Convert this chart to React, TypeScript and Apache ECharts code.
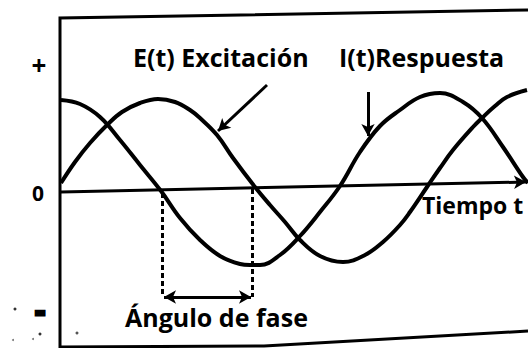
import React, { useEffect, useRef } from "react";
import * as echarts from "echarts";

// Time values (arbitrary units, 0 at the vertical axis) and amplitudes (arbitrary units)
const tRespuesta = [0, 19, 39, 59, 79, 100, 119, 139, 159, 179, 189, 199, 219, 239, 259, 279, 299, 319, 339, 359, 379, 402, 421, 442, 462, 467];
const vRespuesta = [93, 89, 76, 53, 28, 2, -25, -47, -63, -71, -72, -72, -62, -43, -19, 7, 41, 67, 83, 96, 100, 91, 75, 46, 16, 10];

const tExcitacion = [0, 14, 29, 47, 61, 79, 97, 114, 129, 139, 156, 172, 194, 209, 224, 239, 259, 282, 304, 322, 339, 349, 366, 379, 392, 412, 421, 434, 446, 466];
const vExcitacion = [10, 31, 50, 69, 81, 90, 94, 91, 83, 75, 58, 35, 6, -12, -29, -47, -63, -69, -62, -49, -32, -19, 6, 25, 43, 66, 75, 87, 96, 103];

// Time axis (drawn slightly tilted as in the scan)
const ejeTiempo = [[0, 1], [465, 11]];
// Phase angle markers
const faseInicio = 101;
const faseFin = 191;
const faseNivel = -104;
// Pointer arrows for the labels
const punteroE = [[206, 108], [157, 62]];
const punteroI = [[307, 101], [307, 57]];

const etiquetaE = "E(t) Excitación";
const etiquetaI = "I(t)Respuesta";
const etiquetaTiempo = "Tiempo t";
const etiquetaFase = "Ángulo de fase";
const ticksY = ["+", "0", "-"];

const FONT = '"Open Sans", "DejaVu Sans", sans-serif';

export default function App() {
  const ref = useRef<HTMLDivElement>(null);
  useEffect(() => {
    document.body.style.margin = "0";
    const chart = echarts.init(ref.current!, undefined, { renderer: "svg" });
    const black = "#000";
    const curve = (name: string, t: number[], v: number[]) => ({
      name,
      type: "line",
      data: t.map((x, i) => [x, v[i]]),
      smooth: 0.4,
      showSymbol: false,
      clip: false,
      lineStyle: { color: black, width: 4 },
      silent: true,
    });
    const carrier = (name: string, markLine: any) => ({
      name,
      type: "line",
      data: [],
      clip: false,
      markLine: { silent: true, animation: false, label: { show: false }, ...markLine },
    });
    const txt = (text: string, x: number, y: number, size: number, align = "left", stroke = 0) => ({
      type: "text",
      x,
      y,
      style: {
        text,
        fill: black,
        stroke: stroke ? black : undefined,
        lineWidth: stroke,
        font: `bold ${size}px ${FONT}`,
        textAlign: align,
        textVerticalAlign: "middle",
        verticalAlign: "middle",
      },
    });
    chart.setOption({
      animation: false,
      backgroundColor: "#fff",
      grid: { left: 61, right: 0, top: 0, bottom: 0 },
      xAxis: { type: "value", min: 0, max: 467, show: false },
      yAxis: { type: "value", min: -155, max: 193, show: false },
      series: [
        curve("I(t) Respuesta", tRespuesta, vRespuesta),
        curve("E(t) Excitación", tExcitacion, vExcitacion),
        carrier("eje", {
          symbol: ["none", "arrow"],
          symbolSize: [10, 12],
          lineStyle: { color: black, width: 3, type: "solid" },
          data: [[{ coord: ejeTiempo[0] }, { coord: ejeTiempo[1] }]],
        }),
        carrier("guias", {
          symbol: ["none", "none"],
          lineStyle: { color: black, width: 3, type: [5, 3] },
          data: [
            [{ coord: [faseInicio, 0] }, { coord: [faseInicio, faseNivel] }],
            [{ coord: [faseFin, 4] }, { coord: [faseFin, faseNivel] }],
          ],
        }),
        carrier("fase", {
          symbol: ["arrow", "arrow"],
          symbolSize: [10, 12],
          lineStyle: { color: black, width: 3, type: "solid" },
          data: [[{ coord: [faseInicio + 2, faseNivel] }, { coord: [faseFin - 1, faseNivel] }]],
        }),
        carrier("punteros", {
          symbol: ["none", "arrow"],
          symbolSize: [10, 12],
          lineStyle: { color: black, width: 3, type: "solid" },
          data: [
            [{ coord: punteroE[0] }, { coord: punteroE[1] }],
            [{ coord: punteroI[0] }, { coord: punteroI[1] }],
          ],
        }),
      ],
      graphic: [
        { type: "polyline", shape: { points: [[528, 10], [60, 18], [60, 348]] }, style: { stroke: black, lineWidth: 3, fill: null } },
        { type: "polyline", shape: { points: [[60, 347], [264, 346], [528, 331]] }, style: { stroke: black, lineWidth: 3, fill: null } },
        txt(etiquetaE, 133, 57, 25),
        txt(etiquetaI, 339, 57, 25),
        txt(etiquetaTiempo, 422, 205, 23),
        txt(etiquetaFase, 125, 317, 25),
        txt(ticksY[0], 39, 65, 26, "center"),
        txt(ticksY[1], 38, 193, 21, "center"),
        txt(ticksY[2], 40, 309, 30, "center", 3),
        { type: "circle", shape: { cx: 15, cy: 309, r: 1.5 }, style: { fill: "#333" } },
        { type: "circle", shape: { cx: 40, cy: 334, r: 1.5 }, style: { fill: "#333" } },
        { type: "circle", shape: { cx: 33, cy: 339, r: 1 }, style: { fill: "#777" } },
        { type: "circle", shape: { cx: 13, cy: 340, r: 1 }, style: { fill: "#777" } },
        { type: "circle", shape: { cx: 77, cy: 333, r: 1.5 }, style: { fill: "#555" } },
      ],
    });
    return () => chart.dispose();
  }, []);
  return <div ref={ref} style={{ width: 528, height: 348 }} />;
}
